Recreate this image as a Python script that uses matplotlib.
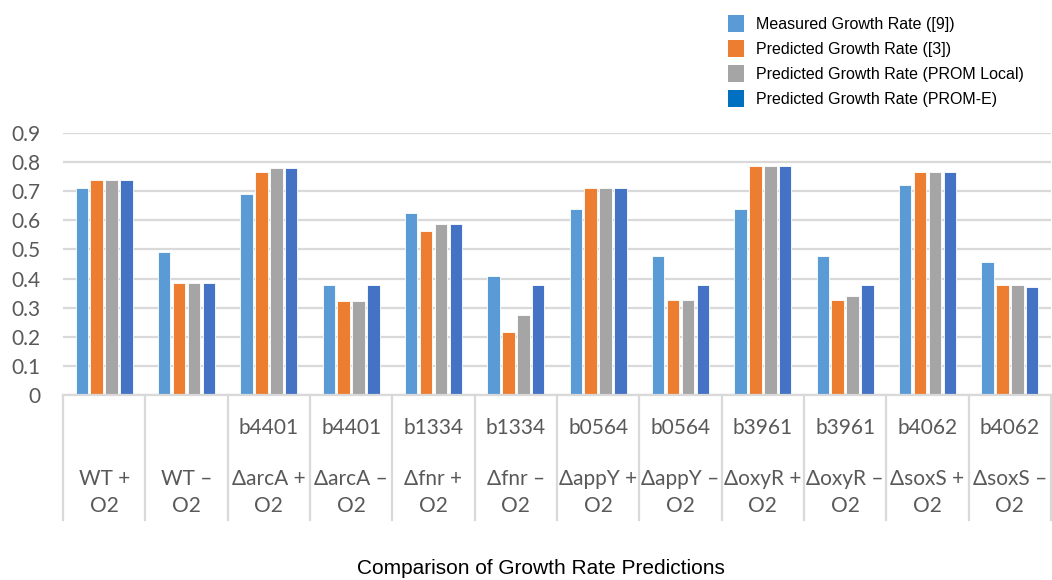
# Growth rate comparison: measured vs predicted, grouped bars per strain/condition
import numpy as np
import matplotlib.pyplot as plt
from matplotlib.patches import Patch
from matplotlib.transforms import blended_transform_factory

# Data
gene_ids = ['', '', 'b4401', 'b4401', 'b1334', 'b1334',
            'b0564', 'b0564', 'b3961', 'b3961', 'b4062', 'b4062']
strains = ['WT +', 'WT \u2013', '\u0394arcA +', '\u0394arcA \u2013', '\u0394fnr +', '\u0394fnr \u2013',
           '\u0394appY +', '\u0394appY \u2013', '\u0394oxyR +', '\u0394oxyR \u2013', '\u0394soxS +', '\u0394soxS \u2013']
measured = [0.71, 0.49, 0.69, 0.377, 0.626, 0.408, 0.64, 0.479, 0.64, 0.479, 0.72, 0.456]
pred_ref3 = [0.74, 0.385, 0.766, 0.323, 0.564, 0.216, 0.711, 0.327, 0.787, 0.327, 0.766, 0.377]
pred_prom_local = [0.74, 0.385, 0.78, 0.323, 0.587, 0.274, 0.711, 0.327, 0.787, 0.341, 0.766, 0.377]
pred_prom_e = [0.74, 0.385, 0.78, 0.377, 0.587, 0.377, 0.711, 0.377, 0.787, 0.377, 0.766, 0.372]

series = [measured, pred_ref3, pred_prom_local, pred_prom_e]
bar_colors = ['#5B9BD5', '#ED7D31', '#A5A5A5', '#4472C4']
legend_colors = ['#5B9BD5', '#ED7D31', '#A5A5A5', '#0070C0']
legend_labels = ['Measured Growth Rate ([9])', 'Predicted Growth Rate ([3])',
                 'Predicted Growth Rate (PROM Local)', 'Predicted Growth Rate (PROM-E)']

tick_font = ['Lato', 'DejaVu Sans']
tick_size = 15
grid_color = '#D9D9D9'
text_gray = '#595959'

fig = plt.figure(figsize=(10.52, 5.80), dpi=100)
ax = fig.add_axes([63 / 1052, 185 / 580, 988 / 1052, 262 / 580])

x = np.arange(len(strains))
pitch = 0.182
width = 0.15
for k, (vals, col) in enumerate(zip(series, bar_colors)):
    ax.bar(x + (k - 1.5) * pitch, vals, width, color=col, edgecolor='white',
           linewidth=0.6, zorder=3)

ax.set_xlim(-0.5, len(strains) - 0.5)
ax.set_ylim(0, 0.9)
ax.set_yticks(np.arange(0, 0.91, 0.1))
ax.set_yticklabels(['0'] + ['%.1f' % v for v in np.arange(0.1, 0.91, 0.1)])
ax.yaxis.grid(True, color=grid_color, linewidth=1.6, zorder=0)
ax.set_axisbelow(True)
for s in ax.spines.values():
    s.set_visible(False)
ax.tick_params(axis='y', length=0, pad=16, labelsize=tick_size, labelcolor=text_gray)
for lbl in ax.get_yticklabels():
    lbl.set_family(tick_font)
ax.set_xticks([])

# category box lines below the axis
tr = blended_transform_factory(ax.transData, ax.transAxes)
ax.plot([-0.5, len(strains) - 0.5], [0, 0], transform=tr, color=grid_color,
        linewidth=1.6, clip_on=False, zorder=4)
for b in np.arange(-0.5, len(strains), 1.0):
    ax.plot([b, b], [0, -125 / 262], transform=tr, color=grid_color,
            linewidth=1.6, clip_on=False)

# three-line category labels
for i in range(len(strains)):
    ax.text(i, -33 / 262, gene_ids[i], transform=tr, ha='center', va='center',
            fontsize=tick_size, color=text_gray, family=tick_font)
    ax.text(i, -84 / 262, strains[i], transform=tr, ha='center', va='center',
            fontsize=tick_size, color=text_gray, family=tick_font)
    ax.text(i, -111 / 262, 'O2', transform=tr, ha='center', va='center',
            fontsize=tick_size, color=text_gray, family=tick_font)

fig.text(541 / 1052, 1 - 569 / 580, 'Comparison of Growth Rate Predictions',
         ha='center', va='center', fontsize=15, family='Liberation Sans', color='black')

handles = [Patch(facecolor=c, edgecolor='none') for c in legend_colors]
fig.legend(handles, legend_labels, loc='upper left', bbox_to_anchor=(714 / 1052, 1 - 1 / 580),
           frameon=False, prop={'family': 'Liberation Sans', 'size': 11.5},
           handlelength=1.0, handleheight=1.25, handletextpad=0.75, labelspacing=0.5)

fig.savefig('out.png', dpi=100)
